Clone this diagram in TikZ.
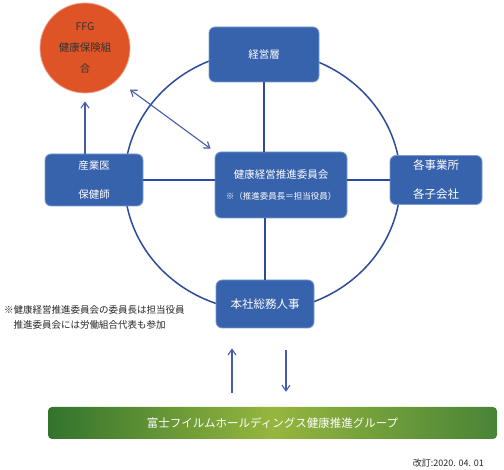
\documentclass[tikz,border=0pt]{standalone}
\usepackage{fontspec}
\setmainfont{Noto Sans CJK JP}
\usetikzlibrary{arrows.meta,positioning}
\definecolor{bl}{RGB}{55,98,172}
\definecolor{blrim}{RGB}{125,155,210}
\definecolor{ringc}{RGB}{45,75,155}
\definecolor{arrc}{RGB}{70,90,170}
\definecolor{ffgred}{RGB}{222,84,38}
\definecolor{g1}{RGB}{50,115,45}
\definecolor{g2}{RGB}{150,182,62}
\definecolor{g3}{RGB}{72,132,55}

\begin{document}
\begin{tikzpicture}[x=1pt, y=-1pt,
  font=\fontsize{10.5}{12.6}\selectfont,
  blk/.style={draw=blrim, fill=bl, line width=0.8pt, rounded corners=6pt,
              text=white, align=center, inner sep=0pt},
  ln/.style={line width=1.5pt, draw=ringc},
  pf/.style={-{Straight Barb[length=2mm,width=2.8mm]}, line width=1.1pt, draw=arrc}
]
\useasboundingbox (0,0) rectangle (504,470);

% Ring
\coordinate (mid) at (262.5,181);
\draw[ln] (mid) ellipse [x radius=138pt, y radius=130pt];

% Bloecke
\node[blk, minimum width=110pt, minimum height=55pt] (keiei) at (264,54.5) {経営層};
\node[blk, minimum width=132pt, minimum height=66pt] (iinkai) at (281,185)
  {健康経営推進委員会\\[9pt] {\fontsize{8.5}{10}\selectfont ※（推進委員長＝担当役員）}};
\node[blk, minimum width=98pt, minimum height=52pt] (sangyo) at (94,180) {産業医\\[17pt]保健師};
\node[blk, minimum width=92pt, minimum height=49pt, font=\fontsize{11.5}{13.8}\selectfont]
  (jigyo) at (436,180) {各事業所\\[15pt]各子会社};
\node[blk, minimum width=98pt, minimum height=48pt, font=\fontsize{11.5}{13.8}\selectfont]
  (honsha) at (265,304) {本社総務人事};

\draw[ln] (keiei.south) -- (keiei.south |- iinkai.north);
\draw[ln] (honsha.north) -- (honsha.north |- iinkai.south);
\draw[ln] (sangyo.east) -- (sangyo.east -| iinkai.west);
\draw[ln] (jigyo.west) -- (jigyo.west -| iinkai.east);

% Kenpo
\node[circle, fill=ffgred, draw=ffgred!55!white, line width=0.8pt, minimum size=90pt,
      inner sep=0pt, align=center, text=black!80] (ffg) at (85,48)
  {FFG\\[8pt]健康保険組\\[8pt]合};
\draw[pf, shorten >=8pt] (sangyo.north -| ffg) -- (ffg.south);
\draw[pf, {Straight Barb[length=2mm,width=2.8mm]}-{Straight Barb[length=2mm,width=2.8mm]},
      shorten <=16pt, shorten >=5pt] (ffg.-45) -- (iinkai.north west);

% Anmerkung
\node[anchor=north west, align=left, inner sep=0pt, text=black!85,
      font=\fontsize{9.5}{15}\selectfont] (note) at (4,305)
  {※健康経営推進委員会の委員長は担当役員\\　推進委員会には労働組合代表も参加};

% Gruppe
\node[rounded corners=4pt, left color=g1, right color=g3, middle color=g2,
      minimum width=449pt, minimum height=32pt, inner sep=0pt, text=white,
      font=\fontsize{11.5}{13.8}\selectfont] (bar) at (272.5,423)
  {富士フイルムホールディングス健康推進グループ};

\coordinate (upx) at (232,0);
\coordinate (dnx) at (286,0);
\draw[pf, shorten <=14pt, shorten >=20pt] (bar.north -| upx) -- (honsha.south -| upx);
\draw[pf, shorten <=22pt, shorten >=15pt] (honsha.south -| dnx) -- (bar.north -| dnx);

\node[anchor=east, inner sep=0pt, text=black!85, font=\fontsize{9}{11}\selectfont]
  (rev) at (484,463) {改訂:2020. 04. 01};

\end{tikzpicture}
\end{document}
